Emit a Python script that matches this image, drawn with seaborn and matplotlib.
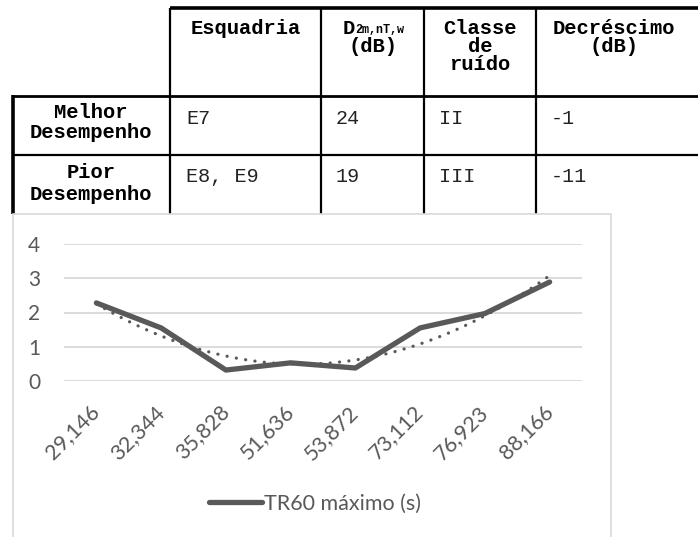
import numpy as np
import pandas as pd
import matplotlib
matplotlib.use("Agg")
import matplotlib.pyplot as plt
from matplotlib.patches import Rectangle
import seaborn as sns

# ---- table content ----
header_lines = [["Esquadria"], ["D", "(dB)"], ["Classe", "de", "ruído"], ["Decréscimo", "(dB)"]]
d_subscript = "2m,nT,w"
row_labels = [["Melhor", "Desempenho"], ["Pior", "Desempenho"]]
cell_values = [["E7", "24", "II", "-1"],
               ["E8, E9", "19", "III", "-11"]]

# ---- chart data ----
volumes = ["29,146", "32,344", "35,828", "51,636", "53,872", "73,112", "76,923", "88,166"]
tr60_max = [2.28, 1.55, 0.32, 0.53, 0.38, 1.55, 1.97, 2.89]
series_name = "TR60 máximo (s)"
y_ticks = [0, 1, 2, 3, 4]

W, H = 698, 537
sns.set_theme(style="white")
plt.rcParams["font.family"] = ["Lato", "DejaVu Sans"]

fig = plt.figure(figsize=(W / 100, H / 100), dpi=100)
fig.patch.set_facecolor("white")

# canvas axes in pixel units for the table and chart frame
canvas = fig.add_axes([0, 0, 1, 1])
canvas.set_xlim(0, W)
canvas.set_ylim(H, 0)
canvas.axis("off")

ink = "black"
mono = "Liberation Mono"

# table grid
col_x = [170, 321, 424, 536]
y_top, y_head, y_sep, y_bot = 8, 96, 155, 214
canvas.plot([170, W], [y_top, y_top], color=ink, lw=2.6, solid_capstyle="butt")
canvas.plot([13, W], [y_head, y_head], color=ink, lw=2.0, solid_capstyle="butt")
canvas.plot([13, W], [y_sep, y_sep], color=ink, lw=1.6, solid_capstyle="butt")
canvas.plot([13, 13], [y_head - 1, y_bot], color=ink, lw=2.6, solid_capstyle="butt")
for cx in col_x:
    canvas.plot([cx, cx], [y_top, y_bot], color=ink, lw=1.6, solid_capstyle="butt")

# header text
head_cx = [245.5, 372.5, 480, 614]
line_y = [28, 46, 64]
fs_head = 14.8
for cx, lines in zip(head_cx, header_lines):
    for i, txt in enumerate(lines):
        if txt == "D":
            canvas.text(cx - 30, line_y[i], "D", family=mono, weight="bold",
                        fontsize=fs_head, ha="left", va="center", color=ink)
            canvas.text(cx - 17, line_y[i] + 2, d_subscript, family=mono, weight="bold",
                        fontsize=8.5, ha="left", va="center", color=ink)
        else:
            canvas.text(cx, line_y[i], txt, family=mono, weight="bold",
                        fontsize=fs_head, ha="center", va="center", color=ink)

# body rows
row_text_y = [(113, 133), (173, 194)]
cell_y = [118, 177]
cell_left = [186, 336, 439, 551]
for r in range(2):
    for i, txt in enumerate(row_labels[r]):
        canvas.text(91, row_text_y[r][i], txt, family=mono, weight="bold",
                    fontsize=fs_head, ha="center", va="center", color=ink)
    for c, txt in enumerate(cell_values[r]):
        canvas.text(cell_left[c], cell_y[r], txt, family=mono,
                    fontsize=14.5, ha="left", va="center", color="#222222")

# chart frame
canvas.add_patch(Rectangle((13, 214), 611 - 13, 340, facecolor="white",
                           edgecolor="#D9D9D9", lw=1.2, zorder=3))

# ---- line chart ----
left, right, y0px, y4px = 64, 582, 381, 244
ax = fig.add_axes([left / W, 1 - y0px / H, (right - left) / W, (y0px - y4px) / H])
ax.set_facecolor("none")
ax.set_zorder(5)

df = pd.DataFrame({"pos": np.arange(len(volumes)), "volume": volumes, "tr60": tr60_max})

gray = "#595959"
# polynomial (order 2) trend line
coef = np.polyfit(df["pos"], df["tr60"], 2)
xs = np.linspace(df["pos"].min(), df["pos"].max(), 300)
ax.plot(xs, np.polyval(coef, xs), color=gray, lw=2.3, linestyle=(0, (0.05, 2.9)),
        dash_capstyle="round", zorder=3)

sns.lineplot(data=df, x="pos", y="tr60", ax=ax, color=gray, linewidth=3.8,
             label=series_name, sort=False, zorder=4)
for ln in ax.get_lines():
    ln.set_solid_capstyle("round")
    ln.set_solid_joinstyle("round")

ax.set_xlim(-0.5, len(volumes) - 0.5)
ax.set_ylim(0, 4)
ax.set_yticks(y_ticks)
ax.set_xticks(df["pos"])
ax.set_xticklabels(volumes, rotation=45, ha="right", va="center",
                   rotation_mode="anchor")
ax.set_xlabel("")
ax.set_ylabel("")
ax.yaxis.grid(True, color="#D9D9D9", lw=1.3)
ax.xaxis.grid(False)
ax.set_axisbelow(True)
for s in ax.spines.values():
    s.set_visible(False)
ax.tick_params(axis="y", length=0, pad=17, labelsize=15, labelcolor=gray)
ax.tick_params(axis="x", length=0, pad=20, labelsize=15.5, labelcolor=gray)

leg = ax.legend(loc="center", bbox_to_anchor=(315 / W, 1 - 504 / H),
                bbox_transform=fig.transFigure, frameon=False, fontsize=15.5,
                handlelength=2.5, handletextpad=0.1, labelcolor=gray)
for h in leg.get_lines():
    h.set_linewidth(3.8)
    h.set_solid_capstyle("round")

fig.savefig("out.png", dpi=100, facecolor="white")
